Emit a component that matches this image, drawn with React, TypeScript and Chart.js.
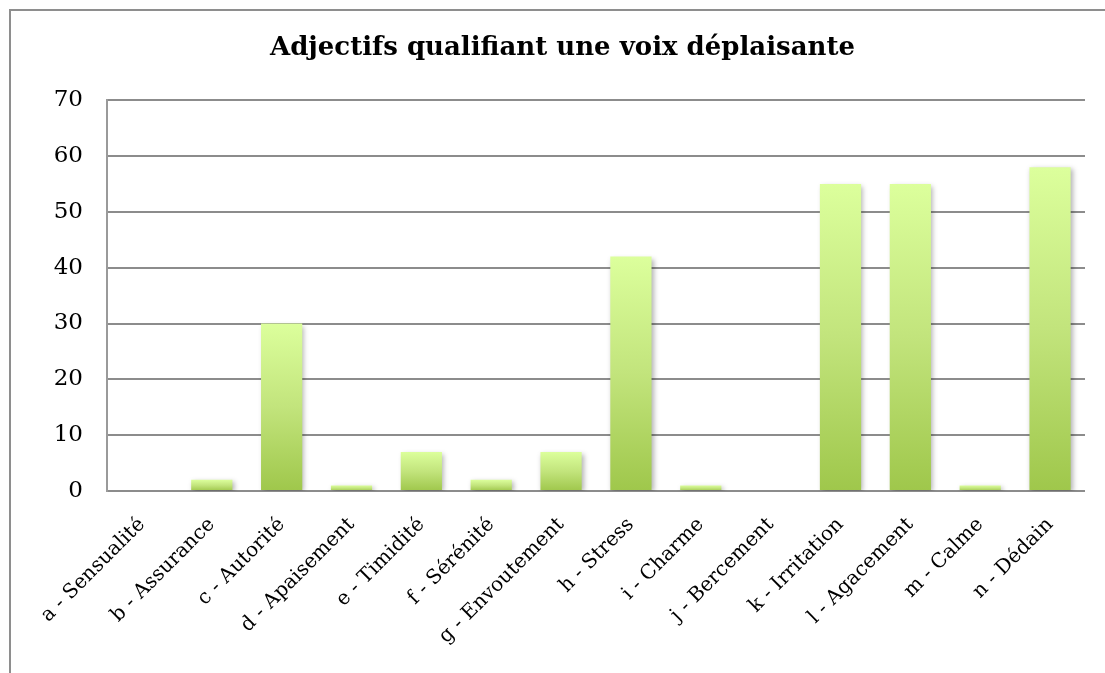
import React, { useEffect, useRef } from "react";
import { Chart, registerables } from "chart.js";

Chart.register(...registerables);

const categories = [
  "a - Sensualité",
  "b - Assurance",
  "c - Autorité",
  "d - Apaisement",
  "e - Timidité",
  "f - Sérénité",
  "g - Envoutement",
  "h - Stress",
  "i - Charme",
  "j - Bercement",
  "k - Irritation",
  "l - Agacement",
  "m - Calme",
  "n - Dédain",
];
const values = [0, 2, 30, 1, 7, 2, 7, 42, 1, 0, 55, 55, 1, 58];
const yTicks = [0, 10, 20, 30, 40, 50, 60, 70];
const titleText = "Adjectifs qualifiant une voix déplaisante";

const FONT = "'DejaVu Serif', 'Liberation Serif', serif";

const shadowPlugin = {
  id: "barShadow",
  beforeDatasetsDraw(chart: any) {
    const ctx = chart.ctx;
    ctx.save();
    ctx.shadowColor = "rgba(0,0,0,0.30)";
    ctx.shadowBlur = 5;
    ctx.shadowOffsetX = 2;
    ctx.shadowOffsetY = 2;
  },
  afterDatasetsDraw(chart: any) {
    chart.ctx.restore();
  },
};

export default function App() {
  const ref = useRef<HTMLCanvasElement | null>(null);

  useEffect(() => {
    if (!ref.current) return;
    const chart = new Chart(ref.current, {
      type: "bar",
      data: {
        labels: categories,
        datasets: [
          {
            data: values,
            backgroundColor: (c: any) => {
              const ch = c.chart;
              if (!ch.chartArea || !ch.scales.y) return "#c0e27a";
              const y = ch.scales.y;
              const top = y.getPixelForValue(c.raw ?? 0);
              const bottom = y.getPixelForValue(0);
              if (Math.abs(bottom - top) < 0.5) return "#c0e27a";
              const g = ch.ctx.createLinearGradient(0, top, 0, bottom);
              g.addColorStop(0, "#dcff9c");
              g.addColorStop(0.5, "#c2e47c");
              g.addColorStop(1, "#9fc74b");
              return g;
            },
            borderWidth: 0,
            barPercentage: 0.59,
            categoryPercentage: 1,
          },
        ],
      },
      options: {
        responsive: false,
        animation: false,
        layout: { padding: { left: 40, right: 20, top: 33, bottom: 0 } },
        plugins: {
          legend: { display: false },
          tooltip: { enabled: false },
          title: {
            display: true,
            text: titleText,
            color: "#000",
            font: { family: FONT, size: 26, weight: "bold" },
            padding: { top: 0, bottom: 36 },
          },
        },
        scales: {
          x: {
            grid: { display: false, drawTicks: false },
            border: { display: false },
            ticks: {
              color: "#000",
              font: { family: FONT, size: 20 },
              minRotation: 45,
              maxRotation: 45,
              autoSkip: false,
              padding: 22,
            },
            afterFit: (s: any) => {
              s.height = 182;
            },
          },
          y: {
            min: 0,
            max: 70,
            afterBuildTicks: (s: any) => {
              s.ticks = yTicks.map((v) => ({ value: v }));
            },
            grid: {
              color: "#8c8c8c",
              lineWidth: 2,
              drawTicks: false,
            },
            border: { display: true, color: "#9a9a9a", width: 2 },
            ticks: {
              color: "#000",
              font: { family: FONT, size: 23 },
              padding: 24,
            },
            afterFit: (s: any) => {
              s.width = 67;
            },
          },
        },
      },
      plugins: [shadowPlugin],
    } as any);
    return () => chart.destroy();
  }, []);

  return (
    <div
      style={{
        position: "fixed",
        left: 0,
        top: 0,
        width: 1105,
        height: 673,
        overflow: "hidden",
        background: "#fff",
      }}
    >
      <div
        style={{
          position: "absolute",
          left: 9,
          top: 9,
          width: 1200,
          height: 900,
          borderLeft: "2px solid #8e8e8e",
          borderTop: "2px solid #8e8e8e",
        }}
      />
      <canvas
        ref={ref}
        width={1105}
        height={673}
        style={{ position: "absolute", left: 0, top: 0 }}
      />
    </div>
  );
}
